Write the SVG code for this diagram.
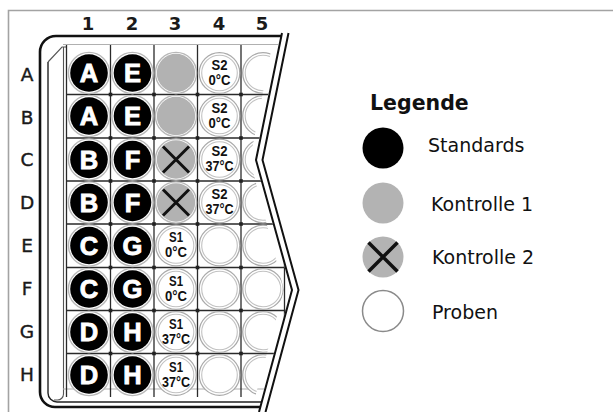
<svg xmlns="http://www.w3.org/2000/svg" xmlns:xlink="http://www.w3.org/1999/xlink" width="613" height="412" viewBox="0 0 613 412">
<style>
.col{font-family:"DejaVu Sans",Verdana,sans-serif;font-size:18px;font-weight:bold;fill:#1a1a1a;text-anchor:middle}
.row{font-family:"DejaVu Sans",Verdana,sans-serif;font-size:18.5px;fill:#1a1a1a;text-anchor:middle;stroke:#1a1a1a;stroke-width:0.4}
.ring{fill:#fff;stroke:#b8b8b8;stroke-width:1.4}
.stdt{font-family:"Liberation Sans",Arial,sans-serif;font-weight:bold;font-size:25.5px;fill:#fff;stroke:#fff;stroke-width:0.9;text-anchor:middle}
.st{font-family:"Liberation Sans",Arial,sans-serif;font-weight:bold;font-size:14.5px;fill:#111;text-anchor:middle}
.grid{stroke:#2a2a2a;stroke-width:1.3;fill:none}
.zz{fill:none;stroke:#111;stroke-width:2}
.leg{font-family:"DejaVu Sans",Verdana,sans-serif;font-size:19px;fill:#111}
</style>
<defs>
<clipPath id="gridClip"><polygon points="40,30 281,30 255,160 291,290 258,412 40,412"/></clipPath>
<clipPath id="wellClip"><polygon points="40,30 275,30 250,160 284,290 251,412 40,412"/></clipPath>
<g id="wStd"><circle r="20.6" class="ring"/><circle r="18.8" fill="#000"/></g>
<g id="wCtl"><circle r="20.6" class="ring"/><circle r="19.2" fill="#b2b2b2"/></g>
<g id="wX"><use xlink:href="#wCtl"/><path d="M-13,-13L13,13M13,-13L-13,13" stroke="#111" stroke-width="3"/></g>
<g id="wSmp"><circle r="20.3" fill="#fff" stroke="#aaa" stroke-width="1.3"/><circle r="17.8" fill="none" stroke="#c2c2c2" stroke-width="1.1"/></g>
<rect id="dot" x="-1.8" y="-1.8" width="3.6" height="3.6" fill="#222"/>
</defs>

<!-- outer frame -->
<path d="M8.5,412 V10.5 H613" fill="none" stroke="#a3a3a3" stroke-width="1.6"/>

<!-- labels -->
<g id="col-labels">
<text class="col" x="88" y="30">1</text>
<text class="col" x="132" y="30">2</text>
<text class="col" x="175" y="30">3</text>
<text class="col" x="219" y="30">4</text>
<text class="col" x="262" y="30">5</text>
</g>
<g id="row-labels">
<text class="row" x="27" y="80.5">A</text>
<text class="row" x="27" y="123.5">B</text>
<text class="row" x="27" y="165.5">C</text>
<text class="row" x="27" y="208.5">D</text>
<text class="row" x="27" y="251.5">E</text>
<text class="row" x="27" y="294.5">F</text>
<text class="row" x="27" y="337.5">G</text>
<text class="row" x="27" y="380.5">H</text>
</g>

<!-- plate body -->
<g id="plate">
<path d="M281,36 H56 A16,16 0 0 0 40,52 V392 A15,15 0 0 0 55,407 H261" fill="none" stroke="#111" stroke-width="2.6"/>
<path d="M48,62 V393 A9,9 0 0 0 57,402 H262" fill="none" stroke="#222" stroke-width="1.4"/>
<path d="M48,62 L62,47 H66 M63.5,47 V394 A6,6 0 0 1 57.5,400 H54" fill="none" stroke="#555" stroke-width="1.1"/>
<g clip-path="url(#gridClip)">
<path d="M63,44.5 H290 M63,389 H290" stroke="#b0b0b0" stroke-width="1.2"/>
<path class="grid" d="M66.5,45 V397 M110.5,45 V397 M154,45 V397 M197.5,45 V397 M241,45 V397 M284.5,45 V397 M66.5,94.5 H290 M66.5,138 H290 M66.5,181 H290 M66.5,224 H290 M66.5,267.5 H290 M66.5,310.5 H290 M66.5,353.5 H290"/>
</g>
</g>

<!-- wells col 1 -->
<g id="well-A1" transform="translate(89,73)"><use xlink:href="#wStd"/><text class="stdt" y="9">A</text></g>
<g id="well-B1" transform="translate(89,116)"><use xlink:href="#wStd"/><text class="stdt" y="9">A</text></g>
<g id="well-C1" transform="translate(89,159.5)"><use xlink:href="#wStd"/><text class="stdt" y="9">B</text></g>
<g id="well-D1" transform="translate(89,202.5)"><use xlink:href="#wStd"/><text class="stdt" y="9">B</text></g>
<g id="well-E1" transform="translate(89,245.5)"><use xlink:href="#wStd"/><text class="stdt" y="9">C</text></g>
<g id="well-F1" transform="translate(89,289)"><use xlink:href="#wStd"/><text class="stdt" y="9">C</text></g>
<g id="well-G1" transform="translate(89,332)"><use xlink:href="#wStd"/><text class="stdt" y="9">D</text></g>
<g id="well-H1" transform="translate(89,375)"><use xlink:href="#wStd"/><text class="stdt" y="9">D</text></g>
<!-- col 2 -->
<g id="well-A2" transform="translate(132.5,73)"><use xlink:href="#wStd"/><text class="stdt" y="9">E</text></g>
<g id="well-B2" transform="translate(132.5,116)"><use xlink:href="#wStd"/><text class="stdt" y="9">E</text></g>
<g id="well-C2" transform="translate(132.5,159.5)"><use xlink:href="#wStd"/><text class="stdt" y="9">F</text></g>
<g id="well-D2" transform="translate(132.5,202.5)"><use xlink:href="#wStd"/><text class="stdt" y="9">F</text></g>
<g id="well-E2" transform="translate(132.5,245.5)"><use xlink:href="#wStd"/><text class="stdt" y="9">G</text></g>
<g id="well-F2" transform="translate(132.5,289)"><use xlink:href="#wStd"/><text class="stdt" y="9">G</text></g>
<g id="well-G2" transform="translate(132.5,332)"><use xlink:href="#wStd"/><text class="stdt" y="9">H</text></g>
<g id="well-H2" transform="translate(132.5,375)"><use xlink:href="#wStd"/><text class="stdt" y="9">H</text></g>
<!-- col 3 -->
<g id="well-A3" transform="translate(176,73)"><use xlink:href="#wCtl"/></g>
<g id="well-B3" transform="translate(176,116)"><use xlink:href="#wCtl"/></g>
<g id="well-C3" transform="translate(176,159.5)"><use xlink:href="#wX"/></g>
<g id="well-D3" transform="translate(176,202.5)"><use xlink:href="#wX"/></g>
<g id="well-E3" transform="translate(176,245.5)"><use xlink:href="#wSmp"/><text class="st" y="-3.5" textLength="14" lengthAdjust="spacingAndGlyphs">S1</text><text class="st" y="11.5" textLength="22" lengthAdjust="spacingAndGlyphs">0°C</text></g>
<g id="well-F3" transform="translate(176,289)"><use xlink:href="#wSmp"/><text class="st" y="-3.5" textLength="14" lengthAdjust="spacingAndGlyphs">S1</text><text class="st" y="11.5" textLength="22" lengthAdjust="spacingAndGlyphs">0°C</text></g>
<g id="well-G3" transform="translate(176,332)"><use xlink:href="#wSmp"/><text class="st" y="-3.5" textLength="14" lengthAdjust="spacingAndGlyphs">S1</text><text class="st" y="11.5" textLength="28" lengthAdjust="spacingAndGlyphs">37°C</text></g>
<g id="well-H3" transform="translate(176,375)"><use xlink:href="#wSmp"/><text class="st" y="-3.5" textLength="14" lengthAdjust="spacingAndGlyphs">S1</text><text class="st" y="11.5" textLength="28" lengthAdjust="spacingAndGlyphs">37°C</text></g>
<!-- col 4 -->
<g id="well-A4" transform="translate(219.5,73)"><use xlink:href="#wSmp"/><text class="st" y="-3.5" textLength="16" lengthAdjust="spacingAndGlyphs">S2</text><text class="st" y="11.5" textLength="22" lengthAdjust="spacingAndGlyphs">0°C</text></g>
<g id="well-B4" transform="translate(219.5,116)"><use xlink:href="#wSmp"/><text class="st" y="-3.5" textLength="16" lengthAdjust="spacingAndGlyphs">S2</text><text class="st" y="11.5" textLength="22" lengthAdjust="spacingAndGlyphs">0°C</text></g>
<g id="well-C4" transform="translate(219.5,159.5)"><use xlink:href="#wSmp"/><text class="st" y="-3.5" textLength="16" lengthAdjust="spacingAndGlyphs">S2</text><text class="st" y="11.5" textLength="28" lengthAdjust="spacingAndGlyphs">37°C</text></g>
<g id="well-D4" transform="translate(219.5,202.5)"><use xlink:href="#wSmp"/><text class="st" y="-3.5" textLength="16" lengthAdjust="spacingAndGlyphs">S2</text><text class="st" y="11.5" textLength="28" lengthAdjust="spacingAndGlyphs">37°C</text></g>
<g id="well-E4" transform="translate(219.5,245.5)"><use xlink:href="#wSmp"/></g>
<g id="well-F4" transform="translate(219.5,289)"><use xlink:href="#wSmp"/></g>
<g id="well-G4" transform="translate(219.5,332)"><use xlink:href="#wSmp"/></g>
<g id="well-H4" transform="translate(219.5,375)"><use xlink:href="#wSmp"/></g>
<!-- col 5 (cut by break) -->
<g clip-path="url(#wellClip)">
<g id="well-A5" transform="translate(263,73)"><use xlink:href="#wSmp"/></g>
<g id="well-B5" transform="translate(263,116)"><use xlink:href="#wSmp"/></g>
<g id="well-C5" transform="translate(263,159.5)"><use xlink:href="#wSmp"/></g>
<g id="well-D5" transform="translate(263,202.5)"><use xlink:href="#wSmp"/></g>
<g id="well-E5" transform="translate(263,245.5)"><use xlink:href="#wSmp"/></g>
<g id="well-F5" transform="translate(263,289)"><use xlink:href="#wSmp"/></g>
<g id="well-G5" transform="translate(263,332)"><use xlink:href="#wSmp"/></g>
<g id="well-H5" transform="translate(263,375)"><use xlink:href="#wSmp"/></g>
</g>

<!-- grid intersection dots -->
<g id="dots">
<use xlink:href="#dot" x="110.5" y="94.5"/><use xlink:href="#dot" x="154" y="94.5"/><use xlink:href="#dot" x="197.5" y="94.5"/><use xlink:href="#dot" x="241" y="94.5"/>
<use xlink:href="#dot" x="110.5" y="138"/><use xlink:href="#dot" x="154" y="138"/><use xlink:href="#dot" x="197.5" y="138"/><use xlink:href="#dot" x="241" y="138"/>
<use xlink:href="#dot" x="110.5" y="181"/><use xlink:href="#dot" x="154" y="181"/><use xlink:href="#dot" x="197.5" y="181"/><use xlink:href="#dot" x="241" y="181"/>
<use xlink:href="#dot" x="110.5" y="224"/><use xlink:href="#dot" x="154" y="224"/><use xlink:href="#dot" x="197.5" y="224"/><use xlink:href="#dot" x="241" y="224"/>
<use xlink:href="#dot" x="110.5" y="267.5"/><use xlink:href="#dot" x="154" y="267.5"/><use xlink:href="#dot" x="197.5" y="267.5"/><use xlink:href="#dot" x="241" y="267.5"/>
<use xlink:href="#dot" x="110.5" y="310.5"/><use xlink:href="#dot" x="154" y="310.5"/><use xlink:href="#dot" x="197.5" y="310.5"/><use xlink:href="#dot" x="241" y="310.5"/>
<use xlink:href="#dot" x="110.5" y="353.5"/><use xlink:href="#dot" x="154" y="353.5"/><use xlink:href="#dot" x="197.5" y="353.5"/><use xlink:href="#dot" x="241" y="353.5"/>
</g>

<!-- break line -->
<g id="break">
<path class="zz" d="M282,33 L256,160 L292,290 L259,412"/>
<path class="zz" d="M288.5,33 L262.5,160 L298.5,290 L265.5,412"/>
</g>

<!-- legend -->
<g id="legend">
<text x="370" y="110" font-family="'DejaVu Sans',Verdana,sans-serif" font-size="20.5" font-weight="bold" fill="#111">Legende</text>
<g id="leg-standards"><circle cx="383" cy="148" r="20.5" fill="#000"/><text class="leg" x="428" y="152">Standards</text></g>
<g id="leg-k1"><circle cx="383" cy="203" r="20.5" fill="#b3b3b3"/><text class="leg" x="431" y="211">Kontrolle 1</text></g>
<g id="leg-k2"><circle cx="383" cy="257" r="20.5" fill="#b3b3b3"/><path d="M368.5,242.5 L397.5,271.5 M397.5,242.5 L368.5,271.5" stroke="#111" stroke-width="3.5"/><text class="leg" x="432" y="264">Kontrolle 2</text></g>
<g id="leg-proben"><circle cx="383" cy="311" r="20.5" fill="#fff" stroke="#8a8a8a" stroke-width="1.5"/><text class="leg" x="432" y="319">Proben</text></g>
</g>
</svg>
